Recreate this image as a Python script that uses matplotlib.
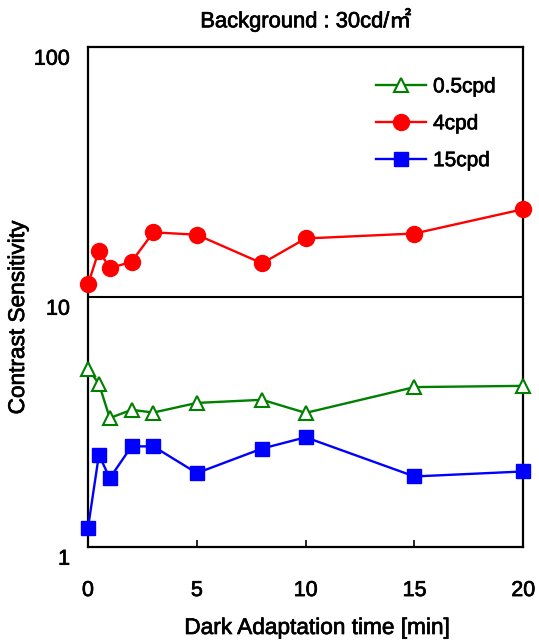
import matplotlib
matplotlib.use("Agg")
import matplotlib.pyplot as plt
import matplotlib.transforms as mtransforms
import matplotlib.patheffects as pe

plt.rcParams['font.family'] = ['Liberation Sans', 'Noto Sans CJK JP', 'DejaVu Sans']

time_min = [0, 0.5, 1, 2, 3, 5, 8, 10, 15, 20]
cs_05cpd = [5.14, 4.49, 3.27, 3.53, 3.44, 3.76, 3.87, 3.43, 4.35, 4.40]
cs_4cpd = [11.2, 15.3, 13.0, 13.8, 18.1, 17.7, 13.6, 17.1, 17.9, 22.4]
cs_15cpd = [1.19, 2.33, 1.88, 2.52, 2.52, 1.97, 2.47, 2.74, 1.91, 2.00]
xticks = [0, 5, 10, 15, 20]
yticks = [1, 10, 100]
ytick_labels = ['1', '10', '100']

fig = plt.figure(figsize=(5.39, 6.41), dpi=100)
ax = fig.add_axes([0.1633, 0.1471, 0.8076, 0.78])

ax.plot(time_min, cs_05cpd, color='#008000', lw=1.7, marker='^', ms=10.5,
        mfc='white', mec='#008000', mew=1.5, label='0.5cpd', clip_on=False, zorder=3)
ax.plot(time_min, cs_4cpd, color='#ff0000', lw=1.7, marker='o', ms=11.5,
        mfc='#ff0000', mec='#ff0000', label='4cpd', clip_on=False, zorder=3)
ax.plot(time_min, cs_15cpd, color='#0000ff', lw=1.7, marker='s', ms=10.5,
        mfc='#0000ff', mec='#0000ff', label='15cpd', clip_on=False, zorder=3)

ax.axhline(10, color='black', lw=1.5, zorder=2)

ax.set_yscale('log')
ax.set_ylim(1, 100)
ax.set_xlim(0, 20)
ax.set_xticks(xticks)
ax.set_yticks(yticks)
ax.set_yticklabels(ytick_labels)
ax.yaxis.set_minor_locator(matplotlib.ticker.NullLocator())
ax.tick_params(axis='x', direction='in', length=5, width=1.2, pad=24, labelsize=15.5)
ax.tick_params(axis='y', length=0, pad=13, labelsize=15.5)
for sp in ax.spines.values():
    sp.set_linewidth(1.6)

offset = mtransforms.ScaledTranslation(0, -0.10, fig.dpi_scale_trans)
for lab in ax.get_yticklabels():
    lab.set_transform(lab.get_transform() + offset)

ax.set_xlabel('Dark Adaptation time [min]', fontsize=16.3)
ax.xaxis.set_label_coords((317 - 88) / 435.3, (546.7 - 616) / 500)
ax.set_ylabel('Contrast Sensitivity', fontsize=16.3)
ax.yaxis.set_label_coords((29 - 88) / 435.3, (546.7 - 317.5) / 500)

ax.set_title('Background : 30cd/㎡', fontsize=15.8, pad=14)

leg = ax.legend(loc='upper right', bbox_to_anchor=(0.97, 0.968), frameon=False,
                fontsize=15, handlelength=2.4, handletextpad=0.35, labelspacing=0.86,
                borderaxespad=0.3)

heavy = [pe.withStroke(linewidth=0.5, foreground='black')]
texts = ([ax.title, ax.xaxis.label, ax.yaxis.label] + ax.get_xticklabels()
         + ax.get_yticklabels() + leg.get_texts())
for t in texts:
    t.set_path_effects(heavy)

fig.savefig('out.png', dpi=100)
